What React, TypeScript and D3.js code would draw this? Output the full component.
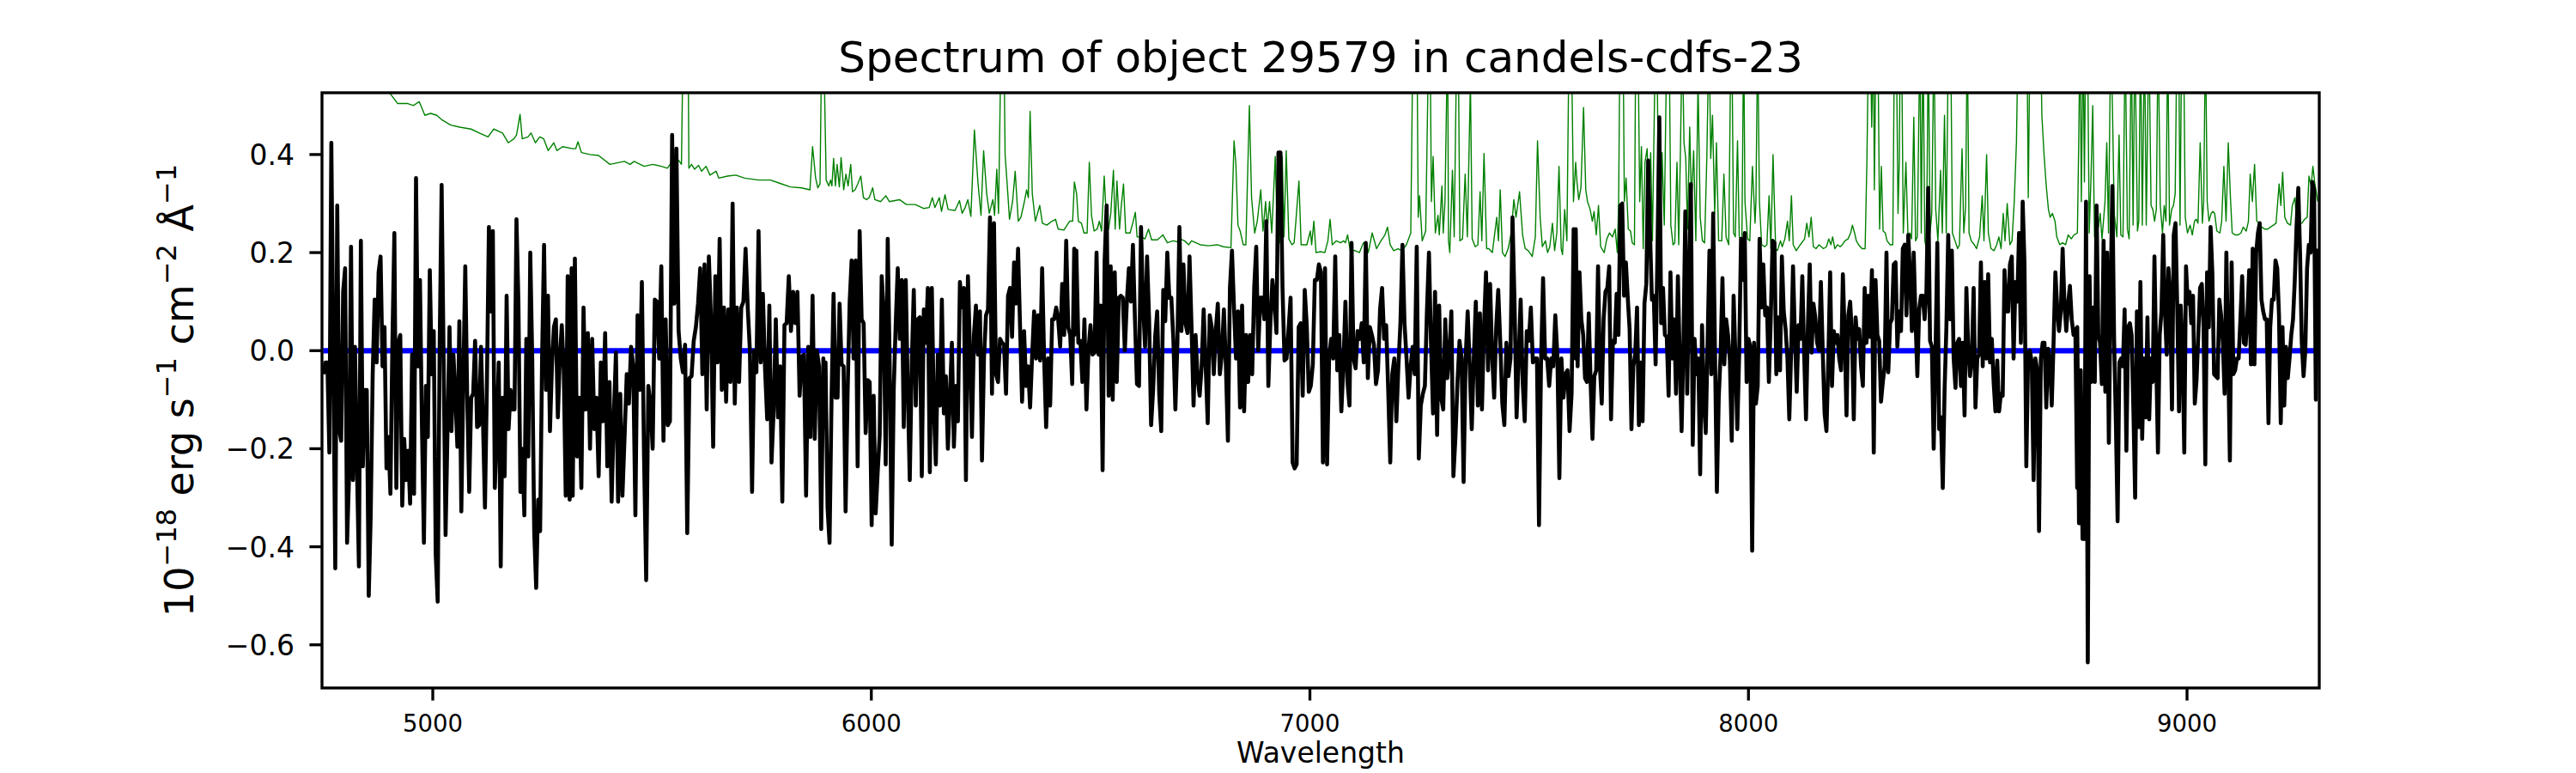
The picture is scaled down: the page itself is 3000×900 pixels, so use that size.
import React from "react";
import * as d3 from "d3";

// ---------- data ----------
const titleText = "Spectrum of object 29579 in candels-cdfs-23";
const xLabelText = "Wavelength";
const xDomain: [number, number] = [4747.4, 9301.5];
const yDomain: [number, number] = [-0.688, 0.526];
const xTicks = [5000, 6000, 7000, 8000, 9000];
const yTicks = [-0.6, -0.4, -0.2, 0.0, 0.2, 0.4];

// observed flux (1e-18 erg/s/cm2/A), sampled on a uniform wavelength grid per segment
const fluxRanges: [number, number][] = [
  [4750.7, 5316.6], [5319.1, 5890.6], [5891.0, 6462.6], [6462.8, 7034.3],
  [7034.5, 7606.0], [7606.2, 8177.8], [8178.0, 8749.5], [8749.7, 9297.7],
];
const fluxA = [-0.048,-0.024,-0.024,-0.208,0.424,0,-0.444,0.296,-0.16,-0.184,0.12,0.168,-0.392,-0.256,0.212,-0.264,0.008,-0.232,-0.44,0.224,-0.236,-0.08,-0.08,-0.5,-0.336,-0.048,0.104,-0.024,0.16,0.192,-0.032,0.048,-0.24,-0.176,-0.292,0.016,0.24,-0.28,0.016,0.032,-0.316,-0.18,-0.264,-0.204,-0.312,-0.008,-0.292,0.352,-0.032,0.144,-0.152,-0.392,-0.072,-0.176,0.164,-0.048,0.04,-0.416,-0.512,0.008,0.338,-0.016,-0.376,-0.16,0.048,-0.164,-0.008,-0.096,-0.196,0.06,-0.328,-0.064,0.172,-0.096,-0.288,-0.096,-0.088,0.02,-0.156,-0.152,0.008,-0.144,-0.32,-0.064,0.252,0.08,0.244,-0.28,-0.16,-0.024,-0.44,-0.096,-0.256,0.112,-0.16,-0.08,-0.12,-0.12,0.268,0.096,-0.288,-0.2,-0.336,0.024,-0.216,0.2,-0.016,-0.368,-0.484,-0.304,-0.368,-0.016,0.216,-0.08,0.112,-0.164,-0.032,0.048,0.064,-0.136,-0.016,0.052,-0.04,-0.296,0.152,-0.304,0.168];
const fluxB = [-0.296,0.188,-0.216,-0.096,-0.28,0.088,-0.12,0.036,-0.2,0.024,-0.16,-0.096,-0.256,-0.024,-0.144,0.036,-0.236,-0.064,-0.308,-0.136,-0.004,-0.308,-0.088,-0.296,-0.176,-0.048,-0.108,0.008,-0.032,-0.336,0.072,-0.08,0.14,-0.216,-0.468,-0.072,-0.112,-0.2,0.104,0.1,-0.016,0.172,-0.184,0.064,-0.152,-0.144,0.44,0.096,0.412,0.04,-0.016,-0.044,0.012,-0.372,-0.056,-0.052,0.02,0.048,0.096,0.168,-0.048,0.176,-0.12,0.192,0.064,-0.196,0.152,-0.024,0.228,-0.08,0.088,-0.104,0.084,-0.064,0.3,-0.108,0.088,-0.064,0.088,0.1,0.208,0.088,0,-0.288,0,-0.044,0.244,-0.024,0.116,-0.036,-0.14,0.092,-0.228,-0.12,0.064,-0.136,-0.032,-0.308,0.052,0.056,0.152,0.04,0.12,0.056,0.12,-0.092,-0.012,-0.008,-0.296,0.008,-0.176,0.112,-0.18,0,-0.032,-0.364,-0.016];
const fluxC = [-0.12,-0.024,-0.32,-0.392,-0.096,0.116,-0.096,-0.096,0.096,-0.028,-0.032,-0.328,-0.088,0.096,0.184,-0.016,0.184,-0.236,0.244,0.064,0.056,-0.168,-0.06,-0.064,-0.356,-0.092,-0.332,-0.248,-0.172,0.152,0.08,-0.232,0.228,-0.032,-0.396,-0.08,0.056,0.168,0.024,0.144,-0.156,0.144,-0.08,-0.264,-0.024,0.124,-0.112,0.064,0.068,-0.256,0.084,0.016,0.128,-0.248,0.128,-0.12,-0.232,-0.008,-0.112,0.104,-0.128,-0.052,-0.2,-0.096,0.016,-0.196,-0.072,-0.144,0.14,0.088,0.128,-0.264,0.152,0,-0.176,0.032,0.092,-0.008,0.08,-0.224,-0.016,0.072,0.084,0.272,-0.088,0.26,-0.048,-0.064,0.024,0.016,0.012,-0.088,0.112,0.128,0.028,0.18,0.096,0.208,0.048,-0.104,0.04,-0.072,-0.032,-0.116,-0.012,0.08,-0.016,0.072,-0.02,0.168,-0.016,-0.156,-0.016,-0.112,0.064,0.064,0.088,0.064,0.008,0.136,0.032,0.224,0.048,0.032,-0.068,0.208];
const fluxD = [0.032,0.204,0.016,0.02,-0.064,0.064,-0.12,0,0.052,-0.008,-0.004,0.2,-0.008,0.092,-0.244,0.184,0.296,-0.092,0.172,-0.1,0.16,-0.064,0.108,0.112,0.108,0,0.1,0.168,0.1,0.216,0.064,-0.068,-0.072,0.252,0.096,0.008,0.192,0.064,-0.152,-0.08,0.028,0.08,-0.088,-0.164,0.124,0.06,0.2,0.108,0.108,0.024,-0.12,0.016,0.252,0.04,0.176,0.056,0.036,0.192,0.048,-0.112,0.032,-0.056,-0.092,-0.032,0.084,-0.032,-0.148,0.072,0.048,-0.048,0.04,0.096,-0.048,-0.008,0.084,-0.032,-0.184,0.128,0.204,0.088,-0.016,0.08,-0.116,0.092,-0.124,0.032,-0.064,0.032,-0.048,0.128,0.212,0,0.108,0.108,0.064,0.264,-0.072,0.056,0.144,0.1,0.036,0.404,0.404,0.128,-0.02,-0.016,0.044,0.108,-0.228,-0.24,-0.232,0.048,0.056,-0.092,0.124,0.052,-0.084,-0.072,-0.028,0.144,0.144,0.176,0.16,-0.228,0.144];
const fluxE = [0.168,-0.232,-0.016,0.024,-0.016,0.192,-0.04,0.032,-0.124,-0.032,0.1,-0.064,-0.112,0.22,-0.016,-0.036,0.04,0.024,0.056,-0.024,0.22,-0.056,0.048,0.032,0.012,-0.068,-0.04,0.084,0.128,0.024,0.052,-0.08,-0.228,-0.048,-0.016,-0.144,-0.032,0.056,0.216,0.056,-0.016,-0.096,-0.032,0.008,-0.048,0.212,-0.22,-0.112,-0.088,-0.072,0.08,0.2,0.016,-0.128,0.12,-0.172,0.092,-0.096,-0.12,0.064,-0.056,-0.008,0.08,-0.256,-0.176,-0.064,0.02,-0.016,-0.268,-0.016,0.08,-0.032,-0.16,-0.016,0.1,-0.112,0.076,-0.12,0.048,0.16,-0.04,0.136,-0.008,-0.096,0.048,0.124,0.016,-0.108,-0.152,0.016,-0.052,-0.016,0.272,0.096,-0.136,-0.016,0.104,-0.064,-0.144,0.04,0.02,0.088,-0.024,-0.016,-0.016,-0.356,-0.024,0.148,-0.016,-0.016,-0.072,-0.016,-0.032,0.072,-0.008,-0.26,-0.016,-0.096,-0.048,-0.04,-0.164,-0.088,0.248,-0.016];
const fluxF = [0.248,-0.032,0.16,0.064,0.032,-0.056,-0.064,0.076,-0.064,-0.18,-0.052,-0.04,0.172,-0.032,-0.108,0.064,0.12,0.128,0.172,-0.14,0.02,0.016,0.116,0.032,0.296,0.3,0.112,0.18,0.108,0.044,-0.16,-0.032,-0.008,0.088,-0.152,-0.024,-0.144,0.096,0.136,0.388,0.24,0.104,0.112,-0.028,0.2,0.476,0.056,0.128,0.032,0.028,-0.092,0.16,-0.016,0.064,-0.088,0.152,-0.016,-0.164,0.016,0.284,-0.088,0.128,0.34,-0.192,0.024,-0.048,-0.016,-0.252,0.052,-0.096,-0.168,0.016,0.204,-0.048,0.28,-0.008,-0.288,-0.096,-0.008,0.148,-0.028,0.064,0.032,-0.02,-0.184,0.112,-0.016,-0.16,-0.008,0.228,0.144,0.24,-0.064,0.024,0.008,-0.408,0.016,-0.108,-0.072,0.228,0.088,0.176,0.072,0.088,-0.064,0.064,0.224,0.22,-0.048,0.068,-0.04,0.192,0.08,0.044,-0.016,-0.14,0,0.172,0.032,-0.084,0.052,0.024,0.152,-0.008,-0.14,0.048,0.176,-0.004,0.096,0.068,0.016,0,0.14,0,-0.128,-0.164];
const fluxG = [-0.16,-0.016,0.16,-0.072,0.04,0.016,0.032,-0.016,-0.04,0.156,0.032,-0.132,0.072,0.1,0.032,-0.14,0.068,0.024,0.044,-0.032,-0.072,0.128,0.016,0.112,0.028,0.164,-0.208,0.144,0.032,0.02,-0.104,-0.064,-0.032,0.2,-0.044,0.056,0.064,0.176,0.18,0.008,0.08,0.04,0.208,0.216,0.072,0.236,0.152,0.04,0.2,0.064,-0.052,0.084,0.112,0.112,0.064,0.12,0.332,0.02,0.008,-0.2,-0.008,0.22,-0.16,-0.136,-0.28,-0.08,0.048,0.236,0.064,0.204,-0.016,-0.076,0.016,0.024,-0.072,0.016,-0.132,0.128,0.008,-0.052,-0.016,0.128,-0.116,-0.016,-0.008,0.18,-0.032,0.14,-0.016,0.156,-0.024,0.024,-0.064,-0.124,-0.02,-0.124,-0.088,-0.092,0.164,0.08,0.08,0.176,0.192,-0.016,0.14,0.1,0.24,0.016,0.304,0.176,-0.236,-0.008,0,-0.024,-0.264,-0.016,-0.04,-0.368,-0.016,0.016,0.016,-0.116,0.004,-0.016,-0.112,0.016,0.16,0.088,0.04,0.08,0.208,0.096,0.04,0.096,0.132,0.064,0.032,0.044,-0.28];
const fluxH = [0.048,-0.352,-0.04,-0.384,-0.384,0.304,-0.636,0.152,-0.064,0.088,-0.064,0.296,0.032,0.016,-0.068,0.224,-0.084,0.2,-0.188,0.112,0.336,0.024,-0.144,-0.348,-0.024,-0.016,-0.032,0.084,-0.204,0.048,0.056,0.032,-0.12,-0.3,0.08,-0.156,0.14,-0.18,-0.016,-0.136,0.068,-0.14,-0.016,-0.064,0.192,-0.016,-0.208,0.032,0.08,0.236,0.08,-0.008,0.168,0.104,-0.12,0.236,0.26,0.088,-0.124,0.092,0.008,-0.208,0.172,0.096,0.12,0.056,0.112,-0.108,-0.06,0.032,0.128,0.136,0.048,-0.232,0.16,0.048,0.252,0.16,-0.048,-0.052,-0.056,0.104,0.072,0.016,-0.088,0.2,-0.008,-0.224,0.18,-0.048,-0.04,-0.016,-0.016,0.064,0.152,0.016,0.012,0.072,0.164,-0.028,0.208,-0.028,0.2,0.24,0.26,0.104,0.08,0.064,0.064,-0.148,0.048,0.104,0.104,0.184,0.168,0.072,-0.148,0.048,-0.112,0.008,-0.056,-0.016,0.032,0.064,0.144,0.252,0.332,0.2,0.016,-0.052,0,0.168,0.216,0.2,0.344,0.328,-0.1,0.208];
const fluxSegments = [fluxA, fluxB, fluxC, fluxD, fluxE, fluxF, fluxG, fluxH];

// model (blue) line
const modelWave = [4750, 9298];
const modelFlux = [0, 0];

// sky / error spectrum (green): [wavelength, flux]
const skyA: [number, number][] = [[4747,0.592],[4898,0.53],[4920,0.504],[4943,0.504],[4956,0.5],[4969,0.508],[4982,0.48],[4995,0.484],[5009,0.48],[5022,0.47],[5041,0.46],[5061,0.456],[5087,0.452],[5106,0.444],[5126,0.436],[5139,0.452],[5159,0.444],[5172,0.424],[5185,0.432],[5191,0.44],[5199,0.482],[5204,0.432],[5217,0.436],[5224,0.444],[5234,0.424],[5244,0.436],[5253,0.432],[5263,0.408],[5276,0.424],[5283,0.408],[5296,0.416],[5319,0.412]];
const skyB: [number, number][] = [[5326,0.412],[5331,0.426],[5339,0.404],[5358,0.4],[5378,0.398],[5404,0.38],[5437,0.386],[5450,0.38],[5459,0.386],[5482,0.376],[5502,0.38],[5521,0.376],[5535,0.372],[5544,0.384],[5551,0.388],[5561,0.388],[5567,0.38],[5571,0.65],[5577,0.75],[5582,0.65],[5584,0.372],[5590,0.38],[5597,0.37],[5606,0.378],[5613,0.366],[5623,0.376],[5632,0.358],[5646,0.366],[5652,0.352],[5672,0.356],[5691,0.358],[5711,0.352],[5743,0.348],[5770,0.348],[5789,0.342],[5815,0.334],[5841,0.332],[5860,0.328],[5866,0.416],[5873,0.352],[5878,0.332],[5883,0.34],[5887,0.65]];
const skyC: [number, number][] = [[5891,0.65],[5894,0.496],[5897,0.348],[5903,0.336],[5907,0.348],[5910,0.336],[5914,0.392],[5918,0.336],[5922,0.38],[5927,0.334],[5931,0.394],[5937,0.328],[5942,0.36],[5947,0.336],[5953,0.38],[5957,0.324],[5963,0.328],[5969,0.34],[5976,0.356],[5982,0.312],[5989,0.308],[5995,0.312],[6003,0.332],[6008,0.308],[6021,0.304],[6033,0.316],[6041,0.304],[6064,0.308],[6080,0.298],[6100,0.298],[6119,0.29],[6132,0.292],[6139,0.312],[6145,0.292],[6155,0.312],[6160,0.284],[6168,0.318],[6175,0.288],[6191,0.286],[6201,0.306],[6207,0.28],[6214,0.292],[6220,0.308],[6227,0.274],[6235,0.45],[6243,0.344],[6250,0.276],[6256,0.408],[6263,0.32],[6269,0.28],[6277,0.308],[6281,0.276],[6286,0.37],[6290,0.28],[6296,0.65],[6299,0.75],[6302,0.65],[6305,0.4],[6310,0.336],[6315,0.268],[6322,0.304],[6328,0.366],[6335,0.264],[6341,0.272],[6348,0.3],[6354,0.328],[6358,0.312],[6362,0.488],[6367,0.32],[6374,0.264],[6384,0.296],[6390,0.26],[6400,0.256],[6412,0.264],[6420,0.268],[6426,0.248],[6439,0.246],[6452,0.264],[6459,0.264],[6463,0.344]];
const skyD: [number, number][] = [[6468,0.32],[6472,0.264],[6479,0.26],[6485,0.24],[6492,0.24],[6497,0.384],[6502,0.276],[6508,0.244],[6515,0.248],[6520,0.264],[6525,0.244],[6531,0.356],[6536,0.268],[6541,0.248],[6546,0.28],[6552,0.368],[6556,0.248],[6560,0.346],[6566,0.248],[6570,0.296],[6575,0.34],[6580,0.24],[6590,0.24],[6596,0.26],[6602,0.282],[6606,0.232],[6616,0.232],[6624,0.228],[6632,0.248],[6639,0.226],[6652,0.226],[6665,0.236],[6675,0.22],[6688,0.224],[6698,0.222],[6704,0.228],[6714,0.224],[6724,0.216],[6730,0.224],[6740,0.22],[6750,0.216],[6769,0.214],[6789,0.216],[6802,0.212],[6820,0.21],[6827,0.428],[6831,0.384],[6836,0.256],[6841,0.244],[6848,0.216],[6854,0.216],[6862,0.5],[6867,0.312],[6874,0.24],[6880,0.264],[6888,0.328],[6893,0.244],[6899,0.304],[6903,0.248],[6908,0.304],[6913,0.24],[6921,0.396],[6926,0.224],[6931,0.22],[6937,0.396],[6941,0.232],[6946,0.408],[6952,0.228],[6959,0.216],[6964,0.22],[6968,0.264],[6975,0.346],[6980,0.216],[6985,0.216],[6993,0.216],[7001,0.244],[7004,0.216],[7009,0.264],[7014,0.2],[7024,0.202],[7034,0.2]];
const skyE: [number, number][] = [[7041,0.224],[7046,0.268],[7051,0.216],[7060,0.224],[7070,0.22],[7077,0.224],[7081,0.22],[7086,0.236],[7092,0.204],[7103,0.204],[7113,0.2],[7122,0.22],[7129,0.216],[7133,0.2],[7142,0.24],[7152,0.208],[7162,0.224],[7171,0.236],[7177,0.252],[7183,0.216],[7191,0.204],[7201,0.208],[7210,0.204],[7220,0.216],[7230,0.24],[7235,0.65],[7240,0.75],[7244,0.65],[7247,0.272],[7250,0.316],[7256,0.224],[7264,0.244],[7271,0.65],[7274,0.65],[7277,0.304],[7281,0.396],[7286,0.24],[7292,0.276],[7295,0.236],[7301,0.336],[7304,0.24],[7308,0.304],[7314,0.65],[7316,0.224],[7319,0.2],[7325,0.368],[7329,0.232],[7335,0.65],[7338,0.65],[7342,0.224],[7348,0.228],[7354,0.36],[7359,0.232],[7366,0.55],[7370,0.228],[7377,0.212],[7383,0.216],[7388,0.324],[7392,0.224],[7397,0.402],[7403,0.208],[7408,0.208],[7416,0.2],[7421,0.236],[7426,0.272],[7430,0.224],[7434,0.328],[7439,0.2],[7445,0.192],[7452,0.208],[7459,0.24],[7465,0.308],[7470,0.272],[7478,0.324],[7485,0.236],[7491,0.208],[7498,0.204],[7507,0.192],[7514,0.232],[7519,0.428],[7525,0.272],[7530,0.212],[7537,0.224],[7542,0.2],[7547,0.212],[7553,0.26],[7558,0.204],[7563,0.24],[7568,0.376],[7573,0.208],[7576,0.196],[7581,0.288],[7586,0.224],[7591,0.65],[7596,0.65],[7601,0.304],[7606,0.384]];
const skyF: [number, number][] = [[7609,0.344],[7613,0.308],[7618,0.332],[7624,0.496],[7629,0.328],[7633,0.304],[7639,0.288],[7644,0.264],[7648,0.284],[7653,0.236],[7658,0.296],[7663,0.212],[7671,0.2],[7677,0.228],[7683,0.24],[7690,0.232],[7696,0.248],[7701,0.2],[7704,0.304],[7707,0.65],[7710,0.75],[7714,0.65],[7717,0.304],[7721,0.352],[7726,0.248],[7731,0.244],[7735,0.22],[7740,0.216],[7743,0.65],[7748,0.65],[7752,0.304],[7756,0.416],[7760,0.208],[7764,0.384],[7769,0.412],[7773,0.28],[7777,0.404],[7781,0.224],[7788,0.65],[7791,0.65],[7795,0.304],[7799,0.248],[7803,0.404],[7808,0.256],[7814,0.65],[7819,0.65],[7823,0.256],[7828,0.216],[7832,0.22],[7837,0.384],[7841,0.216],[7845,0.416],[7849,0.65],[7853,0.424],[7857,0.392],[7861,0.248],[7866,0.456],[7870,0.304],[7875,0.408],[7880,0.224],[7885,0.55],[7890,0.272],[7895,0.224],[7900,0.22],[7905,0.392],[7910,0.65],[7914,0.392],[7918,0.48],[7923,0.28],[7927,0.424],[7932,0.224],[7939,0.224],[7944,0.36],[7949,0.232],[7955,0.216],[7960,0.65],[7962,0.65],[7966,0.24],[7970,0.232],[7975,0.428],[7979,0.232],[7985,0.224],[7989,0.65],[7992,0.304],[7998,0.228],[8003,0.224],[8009,0.376],[8015,0.26],[8017,0.304],[8021,0.65],[8025,0.304],[8030,0.216],[8037,0.212],[8042,0.216],[8047,0.316],[8051,0.208],[8056,0.4],[8062,0.208],[8066,0.204],[8073,0.224],[8077,0.212],[8083,0.228],[8089,0.264],[8093,0.224],[8098,0.316],[8102,0.216],[8109,0.204],[8118,0.216],[8128,0.228],[8133,0.26],[8138,0.232],[8143,0.272],[8148,0.212],[8154,0.208],[8161,0.216],[8171,0.208],[8178,0.212]];
const skyG: [number, number][] = [[8183,0.228],[8188,0.216],[8192,0.232],[8197,0.208],[8203,0.216],[8209,0.212],[8214,0.216],[8220,0.224],[8227,0.228],[8233,0.24],[8237,0.256],[8242,0.24],[8246,0.224],[8251,0.216],[8259,0.208],[8266,0.208],[8270,0.384],[8274,0.65],[8277,0.72],[8281,0.456],[8285,0.65],[8287,0.328],[8291,0.65],[8295,0.65],[8299,0.248],[8303,0.376],[8307,0.244],[8312,0.24],[8316,0.224],[8323,0.216],[8329,0.216],[8333,0.65],[8337,0.65],[8341,0.28],[8344,0.392],[8346,0.65],[8349,0.65],[8353,0.24],[8359,0.384],[8364,0.224],[8368,0.24],[8372,0.228],[8377,0.476],[8381,0.224],[8385,0.232],[8391,0.65],[8394,0.24],[8398,0.65],[8402,0.224],[8406,0.208],[8410,0.65],[8414,0.24],[8418,0.28],[8423,0.65],[8427,0.288],[8432,0.224],[8438,0.368],[8442,0.24],[8447,0.48],[8451,0.24],[8456,0.65],[8461,0.65],[8465,0.24],[8471,0.224],[8477,0.208],[8481,0.216],[8487,0.412],[8491,0.24],[8495,0.292],[8499,0.65],[8503,0.24],[8508,0.224],[8515,0.216],[8520,0.208],[8527,0.232],[8533,0.316],[8537,0.224],[8543,0.4],[8547,0.24],[8553,0.208],[8560,0.204],[8566,0.216],[8571,0.232],[8576,0.208],[8581,0.28],[8585,0.224],[8590,0.3],[8596,0.216],[8601,0.224],[8606,0.304],[8611,0.424],[8615,0.65],[8622,0.75],[8635,0.65],[8638,0.312],[8642,0.65],[8648,0.75],[8661,0.75],[8666,0.65],[8669,0.48],[8674,0.4],[8679,0.336],[8684,0.288],[8688,0.272],[8693,0.28],[8699,0.264],[8703,0.232],[8710,0.216],[8716,0.22],[8723,0.216],[8729,0.236],[8736,0.228],[8742,0.236],[8750,0.24]];
const skyH: [number, number][] = [[8753,0.424],[8756,0.65],[8759,0.304],[8763,0.65],[8766,0.344],[8769,0.65],[8773,0.65],[8777,0.24],[8781,0.352],[8785,0.5],[8789,0.232],[8793,0.272],[8798,0.252],[8802,0.28],[8806,0.228],[8808,0.248],[8813,0.304],[8817,0.424],[8821,0.24],[8826,0.65],[8830,0.492],[8834,0.28],[8840,0.232],[8845,0.44],[8849,0.236],[8854,0.232],[8859,0.65],[8864,0.248],[8868,0.228],[8873,0.65],[8877,0.256],[8881,0.65],[8887,0.244],[8890,0.264],[8894,0.65],[8898,0.256],[8903,0.65],[8907,0.256],[8913,0.65],[8918,0.296],[8922,0.288],[8926,0.264],[8930,0.288],[8934,0.65],[8939,0.296],[8944,0.24],[8948,0.296],[8952,0.264],[8956,0.65],[8960,0.256],[8965,0.288],[8969,0.296],[8973,0.32],[8977,0.65],[8981,0.65],[8984,0.256],[8988,0.65],[8992,0.65],[8996,0.272],[9001,0.24],[9007,0.256],[9012,0.236],[9017,0.264],[9021,0.268],[9025,0.26],[9030,0.424],[9035,0.26],[9038,0.304],[9042,0.65],[9046,0.304],[9050,0.264],[9055,0.28],[9059,0.284],[9063,0.28],[9068,0.244],[9075,0.24],[9079,0.264],[9084,0.376],[9089,0.264],[9094,0.424],[9099,0.312],[9103,0.24],[9110,0.236],[9116,0.236],[9123,0.24],[9128,0.252],[9135,0.244],[9140,0.264],[9144,0.36],[9149,0.304],[9154,0.38],[9159,0.264],[9165,0.26],[9170,0.252],[9177,0.248],[9184,0.248],[9190,0.252],[9197,0.256],[9203,0.26],[9210,0.34],[9214,0.296],[9218,0.364],[9223,0.272],[9229,0.26],[9236,0.256],[9240,0.296],[9246,0.312],[9249,0.272],[9255,0.26],[9262,0.26],[9268,0.268],[9274,0.272],[9278,0.356],[9283,0.336],[9287,0.376],[9291,0.344],[9298,0.304]];
const skySegments = [skyA, skyB, skyC, skyD, skyE, skyF, skyG, skyH];

// ---------- layout ----------
const W = 3000;
const H = 900;
const plot = { left: 375, right: 2701, top: 108, bottom: 801 };
const FONT = "'DejaVu Sans', sans-serif";

export default function App() {
  const x = d3.scaleLinear().domain(xDomain).range([plot.left, plot.right]);
  const y = d3.scaleLinear().domain(yDomain).range([plot.bottom, plot.top]);

  const fluxPts: [number, number][] = [];
  fluxSegments.forEach((seg, i) => {
    const [a, b] = fluxRanges[i];
    const n = seg.length;
    seg.forEach((v, j) => fluxPts.push([a + ((b - a) * j) / (n - 1), v]));
  });
  const skyPts: [number, number][] = ([] as [number, number][]).concat(...skySegments);
  const modelPts: [number, number][] = modelWave.map((w, i) => [w, modelFlux[i]]);

  const line = d3
    .line<[number, number]>()
    .x((d) => x(d[0]))
    .y((d) => y(d[1]));

  const tickLen = 14.6;
  const axisW = 3.33;
  const cx = (plot.left + plot.right) / 2;
  const cy = (plot.top + plot.bottom) / 2;
  const fmtY = (v: number) => (v < 0 ? "\u2212" : "") + Math.abs(v).toFixed(1);

  return (
    <svg
      width={W}
      height={H}
      viewBox={`0 0 ${W} ${H}`}
      style={{ position: "absolute", left: 0, top: 0, background: "#fff" }}
      fontFamily={FONT}
    >
      <rect x={0} y={0} width={W} height={H} fill="#fff" />
      <defs>
        <clipPath id="plotClip">
          <rect x={plot.left} y={plot.top} width={plot.right - plot.left} height={plot.bottom - plot.top} />
        </clipPath>
      </defs>
      <g clipPath="url(#plotClip)">
        <path d={line(skyPts) || ""} fill="none" stroke="#008000" strokeWidth={1.4} strokeLinejoin="round" />
        <path d={line(modelPts) || ""} fill="none" stroke="#0000ff" strokeWidth={6.25} />
        <path d={line(fluxPts) || ""} fill="none" stroke="#000" strokeWidth={4.6} strokeLinejoin="round" />
      </g>
      <rect
        x={plot.left}
        y={plot.top}
        width={plot.right - plot.left}
        height={plot.bottom - plot.top}
        fill="none"
        stroke="#000"
        strokeWidth={axisW}
      />
      {xTicks.map((t) => (
        <g key={"xt" + t}>
          <line x1={x(t)} x2={x(t)} y1={plot.bottom} y2={plot.bottom + tickLen} stroke="#000" strokeWidth={axisW} />
          <text x={x(t)} y={852} fontSize={27.5} textAnchor="middle" fill="#000">
            {t}
          </text>
        </g>
      ))}
      {yTicks.map((t) => (
        <g key={"yt" + t}>
          <line x1={plot.left - tickLen} x2={plot.left} y1={y(t)} y2={y(t)} stroke="#000" strokeWidth={axisW} />
          <text x={343} y={y(t) + 0.3645 * 33} fontSize={33} textAnchor="end" fill="#000">
            {fmtY(t)}
          </text>
        </g>
      ))}
      <text x={cx} y={84} fontSize={50} textAnchor="middle" fill="#000">
        {titleText}
      </text>
      <text x={cx} y={888} fontSize={33} textAnchor="middle" fill="#000">
        {xLabelText}
      </text>
      <text transform={`translate(225,${cy}) rotate(-90)`} fontSize={46} textAnchor="middle" fill="#000" style={{ whiteSpace: "pre" }}>
        <tspan>10</tspan>
        <tspan dy={-20} fontSize={32}>{"\u221218"}</tspan>
        <tspan dy={20}>{" erg s"}</tspan>
        <tspan dy={-20} fontSize={32}>{"\u22121"}</tspan>
        <tspan dy={20}>{" cm"}</tspan>
        <tspan dy={-20} fontSize={32}>{"\u22122"}</tspan>
        <tspan dy={20}>{" \u00c5"}</tspan>
        <tspan dy={-20} fontSize={32}>{"\u22121"}</tspan>
      </text>
    </svg>
  );
}
